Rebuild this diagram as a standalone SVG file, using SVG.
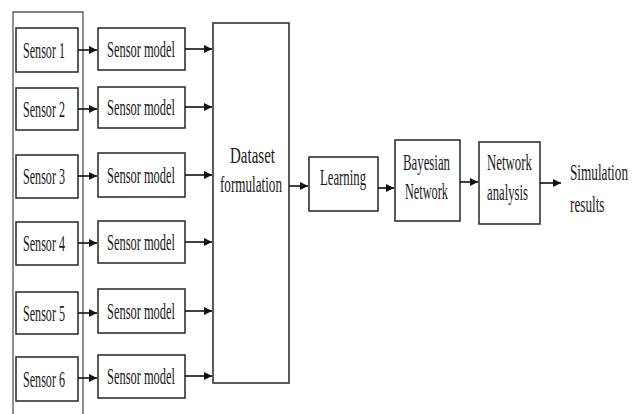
<svg xmlns="http://www.w3.org/2000/svg" width="641" height="414" viewBox="0 0 641 414">
  <defs>
    <marker id="arrow" viewBox="0 0 8 8" refX="8" refY="4" markerWidth="8" markerHeight="8" markerUnits="userSpaceOnUse" orient="auto">
      <path d="M0,0 L8,4 L0,8 Z" fill="#111"/>
    </marker>
  </defs>
  <style>
    .box { fill: #fff; stroke: #333; stroke-width: 1.6; }
    .frame { fill: none; stroke: #555; stroke-width: 1.3; }
    .lbl { font-family: "Liberation Serif", "Times New Roman", serif; font-size: 23px; fill: #1a1a1a; }
    .edge { stroke: #111; stroke-width: 1.6; fill: none; marker-end: url(#arrow); }
  </style>
  <rect width="641" height="414" fill="#fff"/>

  <!-- enclosing frame around the sensors -->
  <path class="frame" d="M13,414 L13,12 L83,12 L83,414"/>

  <g id="sensor1"><rect class="box" x="16" y="28" width="62" height="44"/><text class="lbl" x="23" y="58" textLength="42" lengthAdjust="spacingAndGlyphs">Sensor 1</text></g>
  <g id="sensor2"><rect class="box" x="16" y="88" width="62" height="42"/><text class="lbl" x="23" y="117" textLength="42" lengthAdjust="spacingAndGlyphs">Sensor 2</text></g>
  <g id="sensor3"><rect class="box" x="16" y="155" width="62" height="43"/><text class="lbl" x="23" y="184" textLength="42" lengthAdjust="spacingAndGlyphs">Sensor 3</text></g>
  <g id="sensor4"><rect class="box" x="16" y="222" width="62" height="43"/><text class="lbl" x="23" y="251" textLength="42" lengthAdjust="spacingAndGlyphs">Sensor 4</text></g>
  <g id="sensor5"><rect class="box" x="16" y="292" width="62" height="42"/><text class="lbl" x="23" y="321" textLength="42" lengthAdjust="spacingAndGlyphs">Sensor 5</text></g>
  <g id="sensor6"><rect class="box" x="16" y="357" width="62" height="44"/><text class="lbl" x="23" y="387" textLength="42" lengthAdjust="spacingAndGlyphs">Sensor 6</text></g>

  <g id="model1"><rect class="box" x="98" y="28" width="87" height="42"/><text class="lbl" x="107" y="57" textLength="68" lengthAdjust="spacingAndGlyphs">Sensor model</text></g>
  <g id="model2"><rect class="box" x="98" y="87" width="87" height="41"/><text class="lbl" x="107" y="115" textLength="68" lengthAdjust="spacingAndGlyphs">Sensor model</text></g>
  <g id="model3"><rect class="box" x="98" y="153" width="87" height="44"/><text class="lbl" x="107" y="183" textLength="68" lengthAdjust="spacingAndGlyphs">Sensor model</text></g>
  <g id="model4"><rect class="box" x="98" y="221" width="87" height="42"/><text class="lbl" x="107" y="250" textLength="68" lengthAdjust="spacingAndGlyphs">Sensor model</text></g>
  <g id="model5"><rect class="box" x="98" y="289" width="87" height="44"/><text class="lbl" x="107" y="319" textLength="68" lengthAdjust="spacingAndGlyphs">Sensor model</text></g>
  <g id="model6"><rect class="box" x="98" y="355" width="87" height="43"/><text class="lbl" x="107" y="384" textLength="68" lengthAdjust="spacingAndGlyphs">Sensor model</text></g>

  <g id="dataset">
    <rect class="box" x="213" y="23" width="76" height="360"/>
    <text class="lbl" x="230" y="163" textLength="45" lengthAdjust="spacingAndGlyphs">Dataset</text>
    <text class="lbl" x="220" y="192" textLength="62" lengthAdjust="spacingAndGlyphs">formulation</text>
  </g>

  <g id="learning">
    <rect class="box" x="309" y="157" width="69" height="54"/>
    <text class="lbl" x="320" y="185" textLength="46" lengthAdjust="spacingAndGlyphs">Learning</text>
  </g>

  <g id="bayesian">
    <rect class="box" x="395" y="140" width="65" height="81"/>
    <text class="lbl" x="403" y="170" textLength="47" lengthAdjust="spacingAndGlyphs">Bayesian</text>
    <text class="lbl" x="405" y="199" textLength="43" lengthAdjust="spacingAndGlyphs">Network</text>
  </g>

  <g id="analysis">
    <rect class="box" x="479" y="142" width="61" height="82"/>
    <text class="lbl" x="487" y="170" textLength="45" lengthAdjust="spacingAndGlyphs">Network</text>
    <text class="lbl" x="487" y="200" textLength="41" lengthAdjust="spacingAndGlyphs">analysis</text>
  </g>

  <!-- final output label, condensed with a horizontal scale -->
  <g id="results">
    <text class="lbl" transform="translate(570,180) scale(0.575,1)">Simulation</text>
    <text class="lbl" transform="translate(570,212) scale(0.575,1)">results</text>
  </g>

  <g id="connectors">
    <line class="edge" x1="78" y1="50" x2="97" y2="50"/>
    <line class="edge" x1="78" y1="109" x2="97" y2="109"/>
    <line class="edge" x1="78" y1="176" x2="97" y2="176"/>
    <line class="edge" x1="78" y1="243" x2="97" y2="243"/>
    <line class="edge" x1="78" y1="313" x2="97" y2="313"/>
    <line class="edge" x1="78" y1="378" x2="97" y2="378"/>

    <line class="edge" x1="185" y1="49" x2="212" y2="49"/>
    <line class="edge" x1="185" y1="107" x2="212" y2="107"/>
    <line class="edge" x1="185" y1="175" x2="212" y2="175"/>
    <line class="edge" x1="185" y1="242" x2="212" y2="242"/>
    <line class="edge" x1="185" y1="311" x2="212" y2="311"/>
    <line class="edge" x1="185" y1="376" x2="212" y2="376"/>

    <line class="edge" x1="289" y1="186" x2="308" y2="186"/>
    <line class="edge" x1="378" y1="188" x2="394" y2="188"/>
    <line class="edge" x1="460" y1="182" x2="478" y2="182"/>
    <line class="edge" x1="540" y1="183" x2="561" y2="183"/>
  </g>
</svg>
